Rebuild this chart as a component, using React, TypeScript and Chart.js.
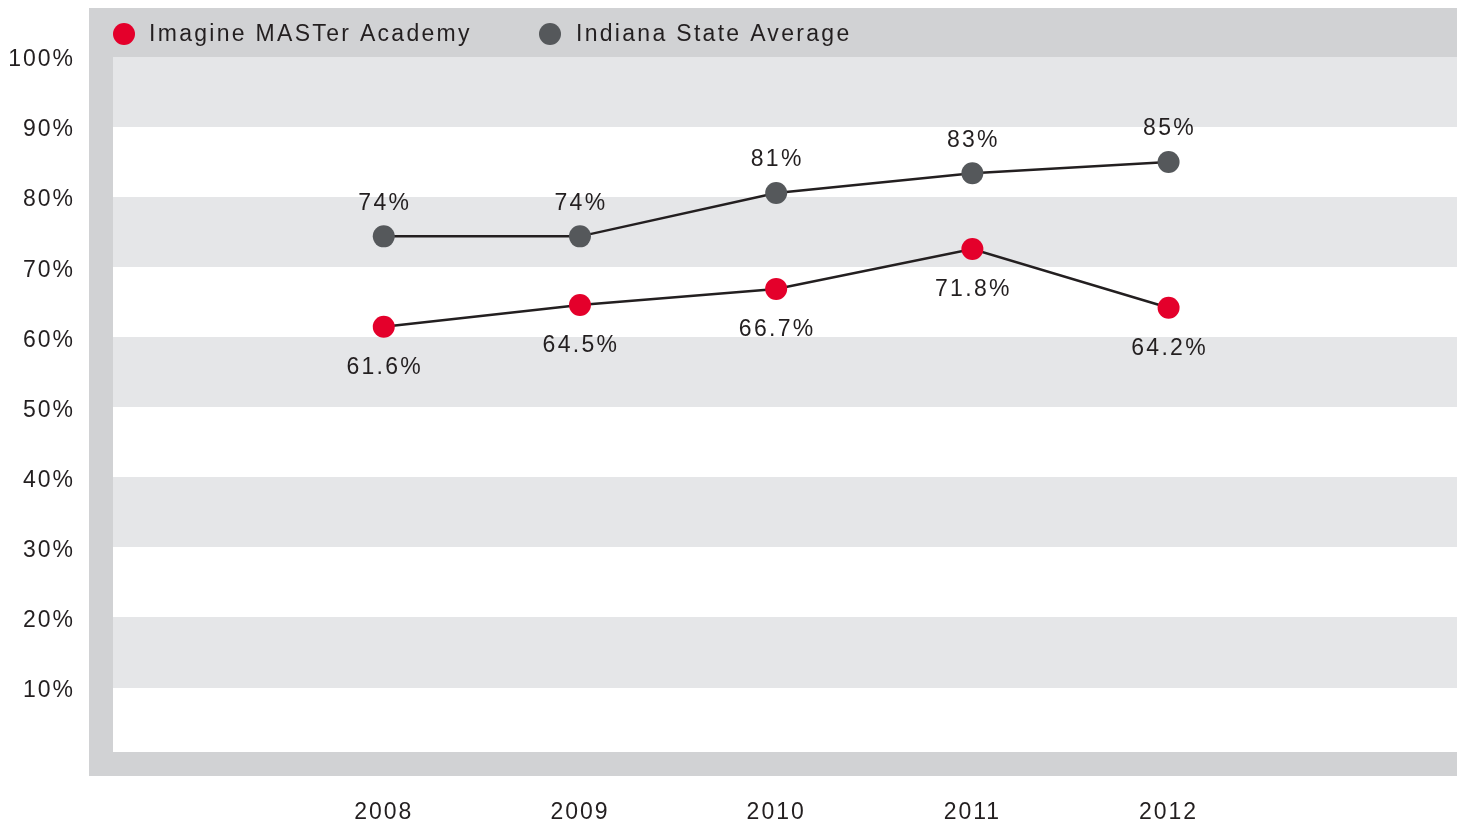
import React, { useEffect, useRef } from 'react';
import { Chart, registerables } from 'chart.js';

Chart.register(...registerables);

const years = [2008, 2009, 2010, 2011, 2012];
const academyValues = [61.5, 64.6, 66.9, 72.6, 64.2];
const academyLabels = ['61.6%', '64.5%', '66.7%', '71.8%', '64.2%'];
const stateValues = [74.4, 74.4, 80.6, 83.4, 85.0];
const stateLabels = ['74%', '74%', '81%', '83%', '85%'];
const yTicks = [10, 20, 30, 40, 50, 60, 70, 80, 90, 100];
const seriesNames = ['Imagine MASTer Academy', 'Indiana State Average'];
const seriesColors = ['#e4002b', '#55585b'];

const FONT = "'Liberation Sans', Arial, Helvetica, sans-serif";
const TEXT = '#231f20';
const FRAME = '#d1d2d4';
const BAND = '#e5e6e8';

const framePlugin = {
  id: 'frameBands',
  beforeDraw(chart: any) {
    const ctx = chart.ctx;
    (ctx as any).letterSpacing = '2px';
    const { left, right, top, bottom } = chart.chartArea;
    const y = chart.scales.y;
    ctx.save();
    ctx.fillStyle = FRAME;
    ctx.fillRect(left - 24, top - 49, right - (left - 24), bottom + 24 - (top - 49));
    ctx.fillStyle = '#ffffff';
    ctx.fillRect(left, top, right - left, bottom - top);
    ctx.fillStyle = BAND;
    for (let k = 0; k < yTicks.length; k += 2) {
      const lo = yTicks[k];
      const hi = yTicks[k] + 10;
      const yTop = Math.round(y.getPixelForValue(hi));
      const yBot = Math.round(y.getPixelForValue(lo));
      ctx.fillRect(left, yTop, right - left, yBot - yTop);
    }
    ctx.restore();
  },
  afterDatasetsDraw(chart: any) {
    const ctx = chart.ctx;
    ctx.save();
    (ctx as any).letterSpacing = '2.3px';
    ctx.font = `23px ${FONT}`;
    ctx.fillStyle = TEXT;
    ctx.textAlign = 'center';
    ctx.textBaseline = 'middle';
    const m0 = chart.getDatasetMeta(0);
    const m1 = chart.getDatasetMeta(1);
    m0.data.forEach((pt: any, i: number) => {
      ctx.fillText(academyLabels[i], pt.x + 1, pt.y + 41);
    });
    m1.data.forEach((pt: any, i: number) => {
      ctx.fillText(stateLabels[i], pt.x + 1, pt.y - 33);
    });
    // legend
    const { left, top } = chart.chartArea;
    const ly = top - 23;
    const items = [
      { cx: left + 11, tx: left + 36 },
      { cx: left + 437, tx: left + 463 },
    ];
    items.forEach((it, i) => {
      ctx.fillStyle = seriesColors[i];
      ctx.beginPath();
      ctx.arc(it.cx, ly, 11, 0, Math.PI * 2);
      ctx.fill();
      ctx.fillStyle = TEXT;
      ctx.textAlign = 'left';
      ctx.fillText(seriesNames[i], it.tx, ly + 1);
    });
    ctx.restore();
  },
};

export default function App() {
  const ref = useRef<HTMLCanvasElement | null>(null);
  useEffect(() => {
    if (!ref.current) return;
    const chart = new Chart(ref.current, {
      type: 'line',
      data: {
        datasets: [
          {
            label: seriesNames[0],
            data: years.map((x, i) => ({ x, y: academyValues[i] })),
            borderColor: TEXT,
            borderWidth: 2.5,
            pointRadius: 11,
            pointHoverRadius: 11,
            pointBorderWidth: 0,
            pointBackgroundColor: seriesColors[0],
            pointBorderColor: seriesColors[0],
            tension: 0,
            clip: false as any,
          },
          {
            label: seriesNames[1],
            data: years.map((x, i) => ({ x, y: stateValues[i] })),
            borderColor: TEXT,
            borderWidth: 2.5,
            pointRadius: 11,
            pointHoverRadius: 11,
            pointBorderWidth: 0,
            pointBackgroundColor: seriesColors[1],
            pointBorderColor: seriesColors[1],
            tension: 0,
            clip: false as any,
          },
        ],
      },
      options: {
        responsive: false,
        animation: false,
        events: [],
        layout: { autoPadding: false, padding: { top: 57, right: 3, left: 0, bottom: 0 } },
        font: { family: FONT, size: 23 },
        plugins: {
          legend: { display: false },
          tooltip: { enabled: false },
        },
        scales: {
          x: {
            type: 'linear',
            min: 2006.62,
            max: 2013.47,
            grid: { display: false, drawTicks: false },
            border: { display: false },
            afterBuildTicks: (scale: any) => {
              scale.ticks = years.map((v) => ({ value: v }));
            },
            afterFit: (scale: any) => {
              scale.height = 70;
            },
            ticks: {
              padding: 47,
              color: TEXT,
              font: { family: FONT, size: 23 },
              autoSkip: false,
              maxRotation: 0,
              callback: (v: any) => String(v),
            },
          },
          y: {
            type: 'linear',
            min: 0.8,
            max: 100,
            grid: { display: false, drawTicks: false },
            border: { display: false },
            afterBuildTicks: (scale: any) => {
              scale.ticks = yTicks.map((v) => ({ value: v }));
            },
            afterFit: (scale: any) => {
              scale.width = 113;
            },
            ticks: {
              padding: 38,
              labelOffset: 3,
              color: TEXT,
              font: { family: FONT, size: 23 },
              autoSkip: false,
              callback: (v: any) => `${v}%`,
            },
          },
        },
      },
      plugins: [framePlugin],
    });
    return () => chart.destroy();
  }, []);
  return (
    <div style={{ position: 'absolute', left: 0, top: 0, width: 1460, height: 822, background: '#fff' }}>
      <canvas ref={ref} width={1460} height={822} />
    </div>
  );
}
